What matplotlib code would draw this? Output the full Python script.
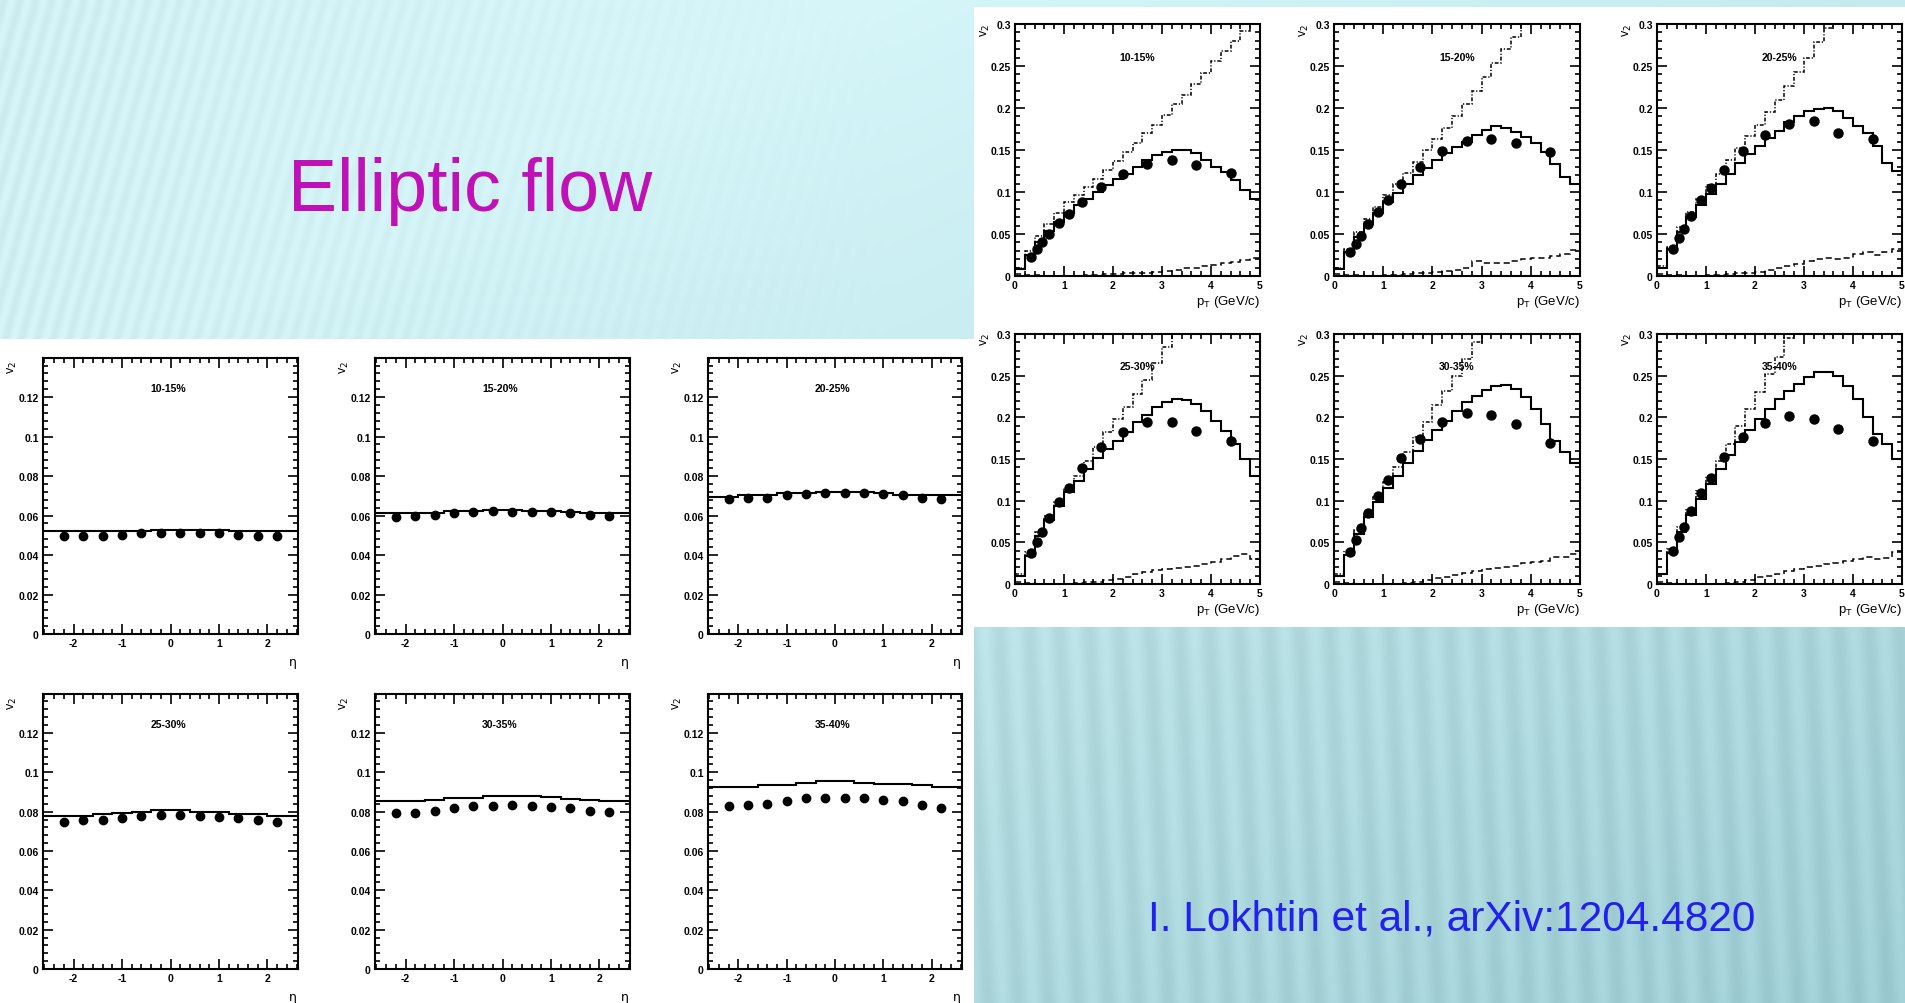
import numpy as np
import matplotlib.pyplot as plt
from matplotlib.patches import Rectangle
from matplotlib.ticker import MultipleLocator, FuncFormatter

W, H = 1905, 1004

# ---------------- v2(eta) panels ----------------
eta_pts = [-2.2, -1.8, -1.4, -1.0, -0.6, -0.2, 0.2, 0.6, 1.0, 1.4, 1.8, 2.2]
eta_edges = [-2.8, -2.4, -2.0, -1.6, -1.2, -0.8, -0.4, 0.0, 0.4, 0.8, 1.2, 1.6, 2.0, 2.4, 2.8]

eta_data_10_15 = [0.0495, 0.0495, 0.0495, 0.0503, 0.051, 0.051, 0.051, 0.051, 0.051, 0.0503, 0.0495, 0.0495]
eta_model_10_15 = [0.052, 0.052, 0.052, 0.052, 0.0524, 0.0524, 0.0525, 0.0525, 0.0525, 0.0525, 0.052, 0.052, 0.052, 0.052]
eta_data_15_20 = [0.0595, 0.0597, 0.0603, 0.0613, 0.062, 0.0625, 0.062, 0.0619, 0.0617, 0.0611, 0.0605, 0.0598]
eta_model_15_20 = [0.0615, 0.0615, 0.0615, 0.0615, 0.0625, 0.0625, 0.063, 0.063, 0.0625, 0.0625, 0.062, 0.0615, 0.0615, 0.0615]
eta_data_20_25 = [0.0683, 0.0688, 0.0688, 0.0702, 0.0708, 0.0712, 0.0715, 0.0712, 0.0708, 0.0702, 0.069, 0.0683]
eta_model_20_25 = [0.0696, 0.0696, 0.0704, 0.0704, 0.0713, 0.0713, 0.072, 0.072, 0.072, 0.0713, 0.0705, 0.0705, 0.0705, 0.0705]
eta_data_25_30 = [0.0746, 0.0756, 0.0758, 0.0768, 0.078, 0.0782, 0.0782, 0.078, 0.0775, 0.0768, 0.0758, 0.0746]
eta_model_25_30 = [0.078, 0.078, 0.078, 0.079, 0.0795, 0.080, 0.081, 0.081, 0.080, 0.080, 0.079, 0.079, 0.078, 0.078]
eta_data_30_35 = [0.0795, 0.0795, 0.0805, 0.0817, 0.0829, 0.0829, 0.0834, 0.0831, 0.0822, 0.0821, 0.0803, 0.0797]
eta_model_30_35 = [0.0852, 0.0852, 0.0852, 0.086, 0.0868, 0.0868, 0.088, 0.088, 0.088, 0.0872, 0.0865, 0.0858, 0.0852, 0.0852]
eta_data_35_40 = [0.0828, 0.0833, 0.084, 0.0853, 0.0867, 0.087, 0.0868, 0.087, 0.0857, 0.0855, 0.0836, 0.0819]
eta_model_35_40 = [0.0927, 0.0927, 0.0927, 0.0935, 0.0935, 0.0947, 0.0956, 0.0956, 0.0947, 0.0938, 0.0938, 0.0935, 0.0927, 0.0927]

# ---------------- v2(pT) panels ----------------
pt_pts = [0.33, 0.45, 0.55, 0.7, 0.9, 1.1, 1.37, 1.75, 2.2, 2.7, 3.2, 3.7, 4.4]
pt_edges = [0.0, 0.2, 0.4, 0.6, 0.8, 1.0, 1.2, 1.4, 1.6, 1.8, 2.0, 2.2, 2.4, 2.6,
            2.8, 3.0, 3.2, 3.4, 3.6, 3.8, 4.0, 4.2, 4.4, 4.6, 4.8, 5.0]

pt_data_10_15 = [0.023, 0.032, 0.04, 0.05, 0.063, 0.074, 0.088, 0.106, 0.122, 0.133, 0.138, 0.132, 0.123]
pt_total_10_15 = [0.008, 0.025, 0.040, 0.053, 0.064, 0.075, 0.084, 0.092, 0.100, 0.108, 0.115, 0.122, 0.130,
                  0.138, 0.144, 0.148, 0.150, 0.150, 0.146, 0.138, 0.130, 0.124, 0.114, 0.102, 0.092]
pt_hydro_10_15 = [0.010, 0.030, 0.048, 0.062, 0.075, 0.088, 0.097, 0.106, 0.116, 0.126, 0.137, 0.148, 0.158,
                  0.170, 0.180, 0.192, 0.205, 0.216, 0.228, 0.242, 0.256, 0.268, 0.280, 0.292, 0.305]
pt_jets_10_15 = [0.002, 0.001, 0.001, 0.0, 0.0, 0.0, 0.0, 0.001, 0.001, 0.002, 0.002, 0.003, 0.003,
                 0.004, 0.005, 0.006, 0.007, 0.009, 0.010, 0.012, 0.013, 0.016, 0.017, 0.019, 0.021]

pt_data_15_20 = [0.028, 0.038, 0.048, 0.062, 0.076, 0.09, 0.109, 0.13, 0.149, 0.161, 0.163, 0.158, 0.148]
pt_total_15_20 = [0.008, 0.028, 0.046, 0.062, 0.075, 0.088, 0.099, 0.110, 0.120, 0.129, 0.138, 0.146, 0.153,
                  0.160, 0.168, 0.174, 0.178, 0.176, 0.171, 0.165, 0.158, 0.148, 0.133, 0.118, 0.110]
pt_hydro_15_20 = [0.010, 0.032, 0.052, 0.068, 0.082, 0.097, 0.110, 0.123, 0.136, 0.150, 0.163, 0.176, 0.190,
                  0.205, 0.220, 0.237, 0.253, 0.270, 0.285, 0.300, 0.315]
pt_jets_15_20 = [0.002, 0.001, 0.001, 0.0, 0.0, 0.001, 0.001, 0.002, 0.003, 0.004, 0.005, 0.006, 0.007,
                 0.009, 0.018, 0.016, 0.015, 0.015, 0.018, 0.020, 0.021, 0.022, 0.024, 0.026, 0.031]

pt_data_20_25 = [0.032, 0.045, 0.056, 0.072, 0.09, 0.105, 0.126, 0.149, 0.168, 0.181, 0.185, 0.17, 0.163]
pt_total_20_25 = [0.010, 0.032, 0.052, 0.070, 0.085, 0.098, 0.110, 0.122, 0.134, 0.145, 0.155, 0.164, 0.173,
                  0.183, 0.190, 0.197, 0.199, 0.200, 0.196, 0.188, 0.178, 0.170, 0.155, 0.135, 0.125]
pt_hydro_20_25 = [0.012, 0.035, 0.058, 0.076, 0.092, 0.108, 0.122, 0.138, 0.152, 0.167, 0.180, 0.195, 0.210,
                  0.226, 0.243, 0.260, 0.278, 0.295, 0.310]
pt_jets_20_25 = [0.002, 0.001, 0.001, 0.0, 0.0, 0.001, 0.001, 0.002, 0.003, 0.004, 0.005, 0.007, 0.009,
                 0.012, 0.014, 0.018, 0.020, 0.021, 0.020, 0.022, 0.026, 0.028, 0.025, 0.028, 0.032]

pt_data_25_30 = [0.037, 0.05, 0.063, 0.079, 0.099, 0.115, 0.139, 0.164, 0.183, 0.195, 0.194, 0.184, 0.172]
pt_total_25_30 = [0.010, 0.034, 0.058, 0.077, 0.094, 0.110, 0.124, 0.138, 0.151, 0.162, 0.172, 0.182, 0.194,
                  0.203, 0.212, 0.218, 0.222, 0.221, 0.216, 0.208, 0.196, 0.184, 0.168, 0.150, 0.130]
pt_hydro_25_30 = [0.012, 0.038, 0.062, 0.082, 0.098, 0.115, 0.130, 0.148, 0.165, 0.183, 0.198, 0.212, 0.228,
                  0.245, 0.265, 0.285, 0.305]
pt_jets_25_30 = [0.002, 0.001, 0.0, 0.0, 0.0, 0.0, 0.001, 0.002, 0.003, 0.005, 0.006, 0.009, 0.012,
                 0.015, 0.017, 0.018, 0.019, 0.020, 0.022, 0.024, 0.027, 0.030, 0.034, 0.036, 0.030]

pt_data_30_35 = [0.038, 0.053, 0.067, 0.085, 0.106, 0.125, 0.151, 0.174, 0.195, 0.205, 0.203, 0.192, 0.169]
pt_total_30_35 = [0.010, 0.035, 0.060, 0.080, 0.098, 0.115, 0.130, 0.145, 0.160, 0.173, 0.185, 0.196, 0.208,
                  0.218, 0.226, 0.233, 0.238, 0.239, 0.234, 0.224, 0.210, 0.192, 0.172, 0.158, 0.145]
pt_hydro_30_35 = [0.012, 0.040, 0.065, 0.087, 0.105, 0.122, 0.140, 0.158, 0.177, 0.195, 0.215, 0.232, 0.250,
                  0.270, 0.290, 0.310]
pt_jets_30_35 = [0.002, 0.001, 0.0, 0.0, 0.0, 0.0, 0.0, 0.001, 0.003, 0.005, 0.007, 0.009, 0.011,
                 0.013, 0.016, 0.018, 0.019, 0.020, 0.022, 0.025, 0.027, 0.028, 0.032, 0.033, 0.036]

pt_data_35_40 = [0.04, 0.057, 0.068, 0.088, 0.109, 0.127, 0.153, 0.177, 0.193, 0.202, 0.198, 0.186, 0.172]
pt_total_35_40 = [0.012, 0.037, 0.063, 0.083, 0.102, 0.120, 0.138, 0.155, 0.170, 0.185, 0.198, 0.210, 0.222,
                  0.232, 0.240, 0.248, 0.254, 0.255, 0.250, 0.238, 0.222, 0.200, 0.180, 0.168, 0.150]
pt_hydro_35_40 = [0.012, 0.042, 0.068, 0.090, 0.112, 0.130, 0.148, 0.168, 0.190, 0.210, 0.230, 0.252, 0.272,
                  0.295, 0.315]
pt_jets_35_40 = [0.002, 0.001, 0.0, 0.0, 0.0, 0.0, 0.0, 0.001, 0.003, 0.005, 0.008, 0.010, 0.012,
                 0.016, 0.018, 0.020, 0.022, 0.024, 0.025, 0.028, 0.030, 0.033, 0.030, 0.031, 0.038]

centralities = ["10-15%", "15-20%", "20-25%", "25-30%", "30-35%", "35-40%"]

eta_panels = [(eta_data_10_15, eta_model_10_15), (eta_data_15_20, eta_model_15_20),
              (eta_data_20_25, eta_model_20_25), (eta_data_25_30, eta_model_25_30),
              (eta_data_30_35, eta_model_30_35), (eta_data_35_40, eta_model_35_40)]
pt_panels = [(pt_data_10_15, pt_total_10_15, pt_hydro_10_15, pt_jets_10_15),
             (pt_data_15_20, pt_total_15_20, pt_hydro_15_20, pt_jets_15_20),
             (pt_data_20_25, pt_total_20_25, pt_hydro_20_25, pt_jets_20_25),
             (pt_data_25_30, pt_total_25_30, pt_hydro_25_30, pt_jets_25_30),
             (pt_data_30_35, pt_total_30_35, pt_hydro_30_35, pt_jets_30_35),
             (pt_data_35_40, pt_total_35_40, pt_hydro_35_40, pt_jets_35_40)]

plt.rcParams['font.family'] = ['Liberation Sans', 'DejaVu Sans']

fig = plt.figure(figsize=(W / 100, H / 100), dpi=100)

# ---------------- slide background ----------------
yy, xx = np.mgrid[0:H, 0:W].astype(float)
light = np.array([214, 246, 249]) / 255
dark = np.array([158, 207, 214]) / 255
mix = np.clip((xx / W) * 0.55 + (yy / H) * 0.6 - 0.25, 0, 1)[..., None]
img = light * (1 - mix) + dark * mix
diag = 0.5 + 0.5 * np.sin(2 * np.pi * (xx + 0.28 * yy) / 16.0)
vert = 0.5 + 0.5 * np.sin(2 * np.pi * (xx - 0.05 * yy) / 30.0)
amp_diag = np.clip(1 - xx / 900, 0, 1) * (yy < 400) * 0.045
amp_vert = (xx > 960) * (yy > 600) * 0.05
img = img - (amp_diag * diag)[..., None] - (amp_vert * vert)[..., None]
img = np.clip(img, 0, 1)

bg = fig.add_axes([0, 0, 1, 1])
bg.imshow(img, extent=[0, W, H, 0], aspect='auto', interpolation='bilinear')
bg.add_patch(Rectangle((0, 340), 974, H - 340, facecolor='white', edgecolor='none'))
bg.add_patch(Rectangle((974, 8), W - 974, 620, facecolor='white', edgecolor='none'))
bg.set_xlim(0, W)
bg.set_ylim(H, 0)
bg.axis('off')

bg.text(288, 192, "Elliptic flow", color='#C010B8', fontsize=53, va='center', ha='left')
bg.text(1148, 920, "I. Lokhtin et al., arXiv:1204.4820", color='#2020F0', fontsize=30.5,
        va='center', ha='left')


def box(l, t, r, b):
    return [l / W, 1 - b / H, (r - l) / W, (b - t) / H]


fmt = FuncFormatter(lambda v, p: f"{round(v, 4):g}")


def style(ax, xmaj, xmin, ymaj, ymin):
    ax.xaxis.set_major_locator(MultipleLocator(xmaj))
    ax.xaxis.set_minor_locator(MultipleLocator(xmin))
    ax.yaxis.set_major_locator(MultipleLocator(ymaj))
    ax.yaxis.set_minor_locator(MultipleLocator(ymin))
    ax.yaxis.set_major_formatter(fmt)
    ax.xaxis.set_major_formatter(fmt)
    ax.tick_params(which='both', direction='in', top=True, right=True, width=1.2,
                   labelsize=7.5, pad=3)
    ax.tick_params(which='major', length=7)
    ax.tick_params(which='minor', length=3.5)
    for lab in ax.get_xticklabels() + ax.get_yticklabels():
        lab.set_fontweight('bold')
    for s in ax.spines.values():
        s.set_linewidth(1.5)


# eta panels (left block)
eta_cols = [(43, 298), (375, 630), (708, 962)]
eta_rows = [(359, 635), (695, 970)]
for i, (data, model) in enumerate(eta_panels):
    l, r = eta_cols[i % 3]
    t, b = eta_rows[i // 3]
    ax = fig.add_axes(box(l, t, r, b))
    ax.stairs(model, eta_edges, baseline=None, color='black', linewidth=1.5)
    ax.plot(eta_pts, data, 'o', color='black', markersize=6)
    ax.set_xlim(-2.63, 2.63)
    ax.set_ylim(0, 0.1398)
    style(ax, 1, 0.2, 0.02, 0.004)
    ax.text(0.49, 0.89, centralities[i], transform=ax.transAxes, ha='center',
            va='center', fontsize=7.5, fontweight='bold')
    ax.text(-0.12, 0.97, "v$_2$", transform=ax.transAxes, rotation=90, ha='center',
            va='center', fontsize=9)
    ax.text(0.98, -0.1, "η", transform=ax.transAxes, ha='center', va='center',
            fontsize=9, family=['DejaVu Sans'])

# pT panels (right block)
pt_cols = [(1015, 1260), (1334, 1580), (1657, 1902)]
pt_rows = [(25, 277), (335, 585)]
for i, (data, total, hydro, jets) in enumerate(pt_panels):
    l, r = pt_cols[i % 3]
    t, b = pt_rows[i // 3]
    ax = fig.add_axes(box(l, t, r, b))
    ax.stairs(hydro, pt_edges[:len(hydro) + 1], baseline=None, color='black',
              linewidth=1.1, linestyle=(0, (2.5, 1.2, 0.8, 1.2)))
    ax.stairs(jets, pt_edges, baseline=None, color='black', linewidth=1.1,
              linestyle=(0, (4, 2.5)))
    ax.stairs(total, pt_edges, baseline=None, color='black', linewidth=1.5)
    ax.plot(pt_pts, data, 'o', color='black', markersize=6.5)
    ax.set_xlim(0, 5)
    ax.set_ylim(0, 0.3)
    style(ax, 1, 0.2, 0.05, 0.01)
    ax.text(0.5, 0.87, centralities[i], transform=ax.transAxes, ha='center',
            va='center', fontsize=7.5, fontweight='bold')
    ax.text(-0.12, 0.98, "v$_2$", transform=ax.transAxes, rotation=90, ha='center',
            va='center', fontsize=9)
    ax.text(1.0, -0.1, "p$_\\mathregular{T}$ (GeV/c)", transform=ax.transAxes,
            ha='right', va='center', fontsize=9.5)

fig.savefig("out.png", dpi=100)
